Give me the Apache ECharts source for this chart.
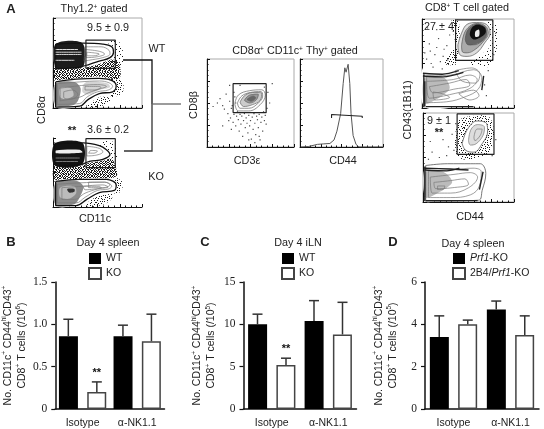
<!DOCTYPE html>
<html>
<head>
<meta charset="utf-8">
<style>html,body{margin:0;padding:0;background:#fff}#c{width:544px;height:429px}</style>
<script src="https://cdn.jsdelivr.net/npm/echarts@6/dist/echarts.min.js"></script>
</head>
<body>
<div id="c"></div>
<script>
// bar panels
var groups = ['Isotype', 'α-NK1.1'];
var spleenWT = [0.86, 0.86], spleenWTErr = [1.06, 0.99];
var spleenKO = [0.2, 0.8], spleenKOErr = [0.32, 1.12];
var ilnWT = [10, 10.4], ilnWTErr = [11.2, 12.8];
var ilnKO = [5.2, 8.8], ilnKOErr = [6, 12.6];
var prfKO = [3.4, 4.7], prfKOErr = [4.4, 5.1];
var dkKO = [4.0, 3.5], dkKOErr = [4.2, 4.4];
var sigSpleen = ['**', ''], sigIln = ['**', ''], sigNone = ['', ''];

// flow panels, all in percent of the panel
var gateWT = [37, 70, 44, 75.5], gateKO = [37, 70, 57, 99];
var gateCD3 = [30, 68, 39, 72];
var gateHi = [36.5, 77, 53.5, 99], gateHiKO = [37.5, 78, 53.5, 99];

var wtRings = [
  [[3,71],[34,72],[56,71],[66,68],[68,62],[64,56],[52,52],[41,48.5],[30,45.5],[15,44],[3,44]],
  [[3,29],[26,32],[52,33],[65,31],[71,25],[67,18],[52,16],[39,9],[30,2],[3,1]]
];
var wtDenseArea = [[2,46],[30,44],[42,46],[55,50],[66,54],[74,50],[76,36],[72,32],[50,35],[25,33],[2,32]];
var wtMidArea = [[66,34],[78,30],[78,17],[66,12],[52,12],[40,4],[34,1],[50,1],[64,8]];
var wtThinArea = [[60,74],[74,74],[80,52],[72,44],[66,54],[70,66]];
var wtDarkArea = [[3,71],[33,72],[34,46],[15,44],[3,44]];
var wtGreyArea = [[3,27],[24,29],[31,22],[28,8],[22,3],[3,3]];
var wtPaleArea = [[8,22],[20,22],[23,14],[14,10],[8,12]];
var wtMidTone = [[36,28],[52,29],[62,27],[64,23],[52,20],[40,15],[33,18]];
var wtInner = [
  [[36,68],[54,68],[63,64],[64,60],[56,56],[40,53],[35,52]],
  [[36,65],[52,63],[58,60],[50,57],[38,56]],
  [[38,62],[48,61],[52,60],[46,58],[38,58]],
  [[5,27],[30,29],[52,30],[63,28],[67,24],[62,20],[50,18],[38,12],[30,5],[5,4]],
  [[8,22],[32,25],[50,26],[60,24],[52,21],[40,17],[30,12],[8,8]],
  [[36,24],[50,24],[54,23],[46,20],[36,20]],
  [[12,18],[22,20],[28,15],[20,10],[12,12]]
];
var wtLight = [[[3,62],[32,62]], [[3,59.5],[32,59.5]], [[3,65],[28,65]], [[3,53],[24,53]]];

var koRings = [
  [[2,92],[34,93],[52,89],[60,83],[64,76],[56,69],[41,66],[30,61],[4,60]],
  [[3,37],[30,40],[60,40],[71,32],[69,24],[52,21],[38,11],[26,2],[3,2]]
];
var koDenseArea = [[2,60],[30,59],[41,64],[56,67],[66,70],[70,60],[72,46],[66,42],[40,42],[2,40]];
var koMidArea = [[70,42],[78,36],[76,22],[60,18],[48,14],[36,2],[50,1],[66,12]];
var koThinArea = [[52,94],[68,94],[72,70],[64,70]];
var koDarkArea = [[2,92],[33,93],[33,62],[2,60]];
var koStrip = [[3,82],[30,83],[33,79],[3,78]];
var koGreyArea = [[3,35],[26,38],[34,30],[30,14],[24,4],[3,3]];
var koPaleArea = [[8,28],[24,30],[26,20],[18,12],[8,14]];
var koCore = [[16,26],[24,26],[24,22],[18,21]];
var koInner = [
  [[38,88],[52,85],[56,80],[48,75],[38,74]],
  [[42,82],[50,81],[46,78],[40,78]],
  [[5,33],[30,35],[58,36],[66,30],[62,26],[50,24],[36,14],[26,6],[5,6]],
  [[10,28],[32,30],[56,32],[62,29],[50,26],[36,20],[24,11],[10,11]],
  [[34,30],[52,30],[54,28],[46,26],[36,25]],
  [[40,36],[58,36],[64,32],[56,28],[40,28]]
];
var koLight = [[[3,71],[30,71]], [[3,66],[28,66]]];

var cd3Rings = [
  [[32,49],[36,59],[49,64],[63,65],[67,59],[61,48],[48,41],[36,41]],
  [[35,50],[40,58],[50,62],[62,63],[64,58],[59,50],[48,44],[38,44]],
  [[38,51],[44,59],[55,62],[63,61],[61,53],[52,48],[42,46]],
  [[43,53],[49,59],[59,60],[57,54],[49,50]],
  [[46,54],[53,58],[56,56],[51,52]]
];
var cd3Dots = [[7,46],[12,50],[15,55],[18,47],[20,43],[22,60],[24,38],[26,52],[27,33],[28,44],[30,28],[31,37],[32,57],[33,24],[34,35],[35,40],[36,31],[37,18],[38,37],[39,26],
  [40,35],[41,12],[42,30],[43,38],[44,22],[45,33],[46,27],[47,16],[48,36],[49,24],[50,30],[51,9],[52,34],[53,20],[54,38],[55,27],[56,14],[57,35],[58,31],[59,22],[60,37],[61,8],[62,28],
  [63,34],[64,18],[65,40],[66,30],[67,36],[69,44],[72,50],[70,62],[75,72],[26,70],[38,70],[66,68],[29,47],[25,30],[18,24],[48,8],[55,5],[60,12],[68,26],[33,50],[31,62],[28,20]];

var histLine = [[1,0],[10,0.5],[21,3],[28,3.5],[36,4],[41,8],[44.5,18],[49,38],[52,72],[54,90],[55.5,85],[58,94],[60,72],[61.5,38],[64,13],[67.5,3],[71,0],[100,0]];
var histGate = [[38,33],[38,37],[38,35],[75,35],[75,33],[75,37]];

var hiMidArea = [[24,50],[38,50],[40,98],[32,98],[36,72],[30,60]];
var hiThinArea = [[72,98],[82,92],[80,60],[72,46],[50,50],[62,58],[74,70]];
var hiOuter = [[39,71],[43,84],[49,94],[59.5,96],[70,94],[74,84],[68,73],[59.5,62],[49,58],[41,60]];
var hiTone1 = [[43,70],[46,84],[52,92],[60,95],[69,92],[72,84],[66,74],[58,66],[49,62],[44,63]];
var hiTone2 = [[47,77],[50,88],[59.5,94],[69,90],[70,82],[65,75],[56,71],[50,71]];
var hiCore = [[52,82],[54,90],[61,94],[69,90],[69,84],[63,79],[56,77]];
var hiHole = [[58,80],[58,86],[62,88],[62,81]];
var hiPop = [[1,45],[27,43],[48,47],[61,47],[69,37],[66,20],[63,9],[56,6],[41,2],[3,1]];
var hiGrey = [[3,34],[24,34],[30,22],[16,10],[3,5]];
var hiRings = [
  [[5,36],[31,37],[56,43],[65,34],[61,21],[48,13],[27,7],[5,6]],
  [[5,30],[34,32],[52,37],[60,32],[52,22],[30,15],[8,11]],
  [[8,24],[30,28],[48,32],[52,26],[34,21],[12,17]],
  [[12,18],[22,16],[30,12],[14,9]],
  [[36,42],[54,45],[63,38],[58,28],[44,30]],
  [[40,16],[56,20],[62,14],[52,9]]
];
var hiDark = [[[1,36],[23,35],[45,40]], [[1,39],[22,38],[40,42]], [[2,1],[2,38]], [[3,2],[3,30]], [[67,36],[65,20]], [[4,1.5],[56,1.5]]];
var hiDots = [[8,72],[14,60],[18,78],[10,50],[20,52],[24,66],[6,90],[16,88],[22,44],[27,70],[30,82],[34,86],[80,84],[78,60],[72,42],[68,26],[70,14],[3,62],[12,46],[5,55],[16,68],[23,58],[28,54],[9,64]];

var loMidArea = [[38,90],[50,96],[72,96],[78,80],[74,58],[60,50],[44,48],[36,56]];
var loOuter = [[43,65.5],[49,82],[59.5,91],[70,88],[71,79],[65,65.5],[56,56],[47,58]];
var loTone = [[50,69],[53,82],[60,87],[67.5,84],[66,75],[58.5,65.5],[52,64]];
var loPop = [[3,41],[27,43],[52,43],[63,43],[69,32],[65,13],[61,2],[16,1],[3,1]];
var loGrey = [[3,34],[24,33],[32,22],[16,10],[3,5]];
var loRings = [
  [[50,69],[53,82],[60,87],[67.5,84],[66,75],[58.5,65.5],[52,64]],
  [[56,73],[59.5,82],[65,82],[63,75],[57,69]],
  [[6,35],[30,36],[55,38],[64,34],[62,18],[52,8],[30,5],[6,5]],
  [[8,28],[34,31],[52,33],[60,28],[50,16],[30,10],[10,10]],
  [[12,22],[30,24],[46,26],[50,20],[32,16],[14,15]],
  [[16,18],[24,18],[22,14],[16,14]]
];
var loDark = [[[2,38],[30,37],[50,36]], [[2,36],[26,35],[40,38]], [[2,1],[2,40]], [[3,1.5],[60,1.5]], [[66,34],[62,14]]];
var loDots = [[14,82],[22,70],[10,56],[28,62],[18,50],[32,76],[6,48],[26,52],[80,70],[76,52],[34,58],[36,88],[8,68]];

// dot tiles used as fill for the stippled parts of the flow plots
var tileDense = [
  '#.##..#.#..##.#.', '.#..##.#.##..#.#', '##.#..#..#.##..#', '..#.##.##.#..##.',
  '#..#..#..#.##.#.', '.##.#..##.#..#.#', '#..##.#..#..##..', '.#.#..#.##.#..##',
  '##..#.#..#.##.#.', '..##.#.##.#..#.#', '#.#..#..#..##.#.', '.#.##.##.#.#..##',
  '#..#..#.#.##.#..', '.##.#.#..#..#.##', '#.#.##.##.#..#.#', '.#..#..#.#.##.#.'
];
var tileMid = [
  '#...#..#......#.', '..#.....#..#....', '.....#......#..#', '.#.....#.#......',
  '...#.#.......#..', '#........#.#....', '..#..#.......#.#', '......#.#.......',
  '.#.........#..#.', '....#.#.#.......', '#..........#...#', '..#..#....#.....',
  '.......#......#.', '.#.#......#.....', '.....#.#.....#..', '#.........#....#'
];
var tileThin = [
  '#.......#.......', '....#...........', '..........#.....', '.......#.......#',
  '...#............', '............#...', '#.......#.......', '.....#..........',
  '..........#.....', '..#............#', '.......#........', '............#...',
  '....#...........', '#.........#.....', '.......#........', '..............#.'
];

function makeTile(rows) {
  var cv = document.createElement('canvas');
  cv.width = 16; cv.height = 16;
  var g = cv.getContext('2d');
  g.fillStyle = '#1a1a1a';
  rows.forEach(function (r, y) {
    for (var x = 0; x < 16; x++) if (r[x] === '#') g.fillRect(x, y, 1, 1);
  });
  return { image: cv, repeat: 'repeat' };
}
var dense = makeTile(tileDense), mid = makeTile(tileMid), thin = makeTile(tileThin);

var chart = echarts.init(document.getElementById('c'));

var ff = '"Liberation Sans", Arial, sans-serif';
var supStyle = { fontFamily: ff, fontSize: 6.5, verticalAlign: 'top', color: '#222', fill: '#222' };
var grids = [], xAxes = [], yAxes = [], series = [];

// flow panels: no labels, small inward ticks, grey frame on some of them
function flowPanel(x, y, w, h, frame) {
  var ax = {
    type: 'value', min: 0, max: 100, interval: 25,
    axisLine: { show: true, lineStyle: { color: '#111', width: 1 } },
    axisTick: { show: true, inside: true, length: 3, lineStyle: { color: '#111', width: 1 } },
    minorTick: { show: true, splitNumber: 4, length: 1.5, lineStyle: { color: '#111' } },
    axisLabel: { show: false }, splitLine: { show: false }
  };
  grids.push({ left: x, top: y, width: w, height: h, show: frame, borderColor: '#aaa', borderWidth: 1, backgroundColor: 'transparent' });
  var i = grids.length - 1;
  xAxes.push(Object.assign({ gridIndex: i }, ax));
  yAxes.push(Object.assign({ gridIndex: i }, ax));
  return i;
}

function path(panel, pts, color, width, opts) {
  series.push(Object.assign({
    type: 'line', xAxisIndex: panel, yAxisIndex: panel, data: pts, symbol: 'none', silent: true,
    lineStyle: { color: color, width: width }, clip: true, z: 3
  }, opts || {}));
}
function rings(panel, list, color, width) {
  list.forEach(function (r) {
    path(panel, r.concat([r[0]]), color, width, { smooth: 0.4 });
  });
}
function strokes(panel, list, color, width) {
  list.forEach(function (s) { path(panel, s, color, width, { smooth: 0.3 }); });
}
// filled region of a flow plot, fill is a colour or a dot tile
function area(panel, pts, fill) {
  series.push({
    type: 'custom', xAxisIndex: panel, yAxisIndex: panel, silent: true, z: 2, data: pts,
    encode: { x: 0, y: 1 },
    renderItem: function (params, api) {
      if (params.dataIndex !== 0) return null;
      return {
        type: 'polygon',
        shape: { points: pts.map(function (p) { return api.coord(p); }), smooth: 0.3 },
        style: { fill: fill, stroke: null }
      };
    }
  });
}
function dots(panel, pts) {
  series.push({
    type: 'scatter', xAxisIndex: panel, yAxisIndex: panel, data: pts, symbol: 'rect', symbolSize: 1.2, silent: true, z: 2,
    itemStyle: { color: '#222' }
  });
}
function gate(panel, g) {
  path(panel, [[g[0],g[2]],[g[1],g[2]],[g[1],g[3]],[g[0],g[3]],[g[0],g[2]]], '#222', 1.2, { z: 5 });
}

var pWT = flowPanel(53, 18, 89, 90, true);
area(pWT, wtThinArea, thin);
area(pWT, wtMidArea, mid);
area(pWT, wtDenseArea, dense);
area(pWT, wtRings[0], '#fff');
area(pWT, wtRings[1], '#fff');
area(pWT, wtDarkArea, '#1c1c1c');
area(pWT, wtGreyArea, '#8c8c8c');
area(pWT, wtPaleArea, '#c4c4c4');
area(pWT, wtMidTone, '#d4d4d4');
rings(pWT, wtRings, '#111', 1.3);
rings(pWT, wtInner, '#777', 0.7);
strokes(pWT, wtLight, '#ddd', 1);
gate(pWT, gateWT);

var pKO = flowPanel(53, 138, 89, 69, false);
area(pKO, koThinArea, thin);
area(pKO, koMidArea, mid);
area(pKO, koDenseArea, dense);
area(pKO, koRings[0], '#fff');
area(pKO, koRings[1], '#fff');
area(pKO, koDarkArea, '#141414');
area(pKO, koStrip, '#eee');
area(pKO, koGreyArea, '#8c8c8c');
area(pKO, koPaleArea, '#bbb');
area(pKO, koCore, '#333');
rings(pKO, koRings, '#111', 1.3);
rings(pKO, koInner, '#777', 0.7);
strokes(pKO, koLight, '#999', 0.8);
gate(pKO, gateKO);

var pCD3 = flowPanel(207, 59, 87, 88, true);
dots(pCD3, cd3Dots);
area(pCD3, cd3Rings[2], '#ccc');
area(pCD3, cd3Rings[3], '#999');
area(pCD3, cd3Rings[4], '#666');
rings(pCD3, cd3Rings, '#666', 0.7);
gate(pCD3, gateCD3);

var pHist = flowPanel(300, 59, 83, 88, true);
path(pHist, histLine, '#555', 1);
path(pHist, histGate, '#222', 1.1);

var pHi = flowPanel(422, 19, 92, 89, true);
area(pHi, hiMidArea, mid);
area(pHi, hiThinArea, thin);
dots(pHi, hiDots);
area(pHi, hiOuter, '#ddd');
area(pHi, hiTone1, '#aaa');
area(pHi, hiTone2, '#666');
area(pHi, hiCore, '#111');
area(pHi, hiHole, '#eee');
area(pHi, hiPop, '#fff');
area(pHi, hiGrey, '#bbb');
rings(pHi, [hiOuter, hiTone1, hiTone2], '#555', 0.7);
rings(pHi, hiRings, '#777', 0.7);
strokes(pHi, hiDark, '#222', 1.4);
gate(pHi, gateHi);

var pLo = flowPanel(423, 113, 91, 89, true);
area(pLo, loMidArea, mid);
dots(pLo, loDots);
area(pLo, loOuter, '#fff');
area(pLo, loTone, '#ddd');
area(pLo, loPop, '#fff');
area(pLo, loGrey, '#bbb');
rings(pLo, [loOuter, loPop], '#555', 0.8);
rings(pLo, loRings, '#777', 0.7);
strokes(pLo, loDark, '#222', 1.4);
gate(pLo, gateHiKO);

// bar panels
function barPanel(left, width, top, height, yMax, yInt, yFmt, yName, gap, names, a, aErr, b, bErr, sig) {
  grids.push({ left: left, top: top, width: width, height: height });
  var i = grids.length - 1;
  xAxes.push({
    gridIndex: i, type: 'category', data: groups,
    axisLine: { lineStyle: { color: '#111', width: 1.5 } }, axisTick: { show: false },
    axisLabel: { color: '#222', fontFamily: ff, fontSize: 10.5, margin: 9 }
  });
  yAxes.push({
    gridIndex: i, type: 'value', min: 0, max: yMax, interval: yInt,
    axisLine: { show: true, lineStyle: { color: '#111', width: 1.5 } },
    axisTick: { show: true, length: 4, lineStyle: { color: '#111', width: 1.2 } },
    axisLabel: { color: '#222', fontFamily: '"Liberation Serif", serif', fontSize: 11.5, margin: 8, formatter: yFmt },
    splitLine: { show: false },
    name: yName, nameLocation: 'middle', nameRotate: 90, nameGap: gap,
    nameTextStyle: { color: '#222', fontFamily: ff, fontSize: 10.5, lineHeight: 14, rich: { s: supStyle } }
  });
  function bars(name, vals, item) {
    series.push({ name: name, type: 'bar', xAxisIndex: i, yAxisIndex: i, data: vals, barWidth: 19, barGap: '49%', itemStyle: item });
  }
  bars(names[0], a, { color: '#000' });
  bars(names[1], b, { color: '#fff', borderColor: '#444', borderWidth: 1.5 });
  function errs(vals, upper, off, marks) {
    series.push({
      type: 'custom', xAxisIndex: i, yAxisIndex: i, silent: true, z: 4,
      data: vals.map(function (v, k) { return [k, v, upper[k]]; }),
      encode: { x: 0, y: [1, 2] },
      renderItem: function (params, api) {
        var base = api.coord([api.value(0), api.value(1)]);
        var tip = api.coord([api.value(0), api.value(2)]);
        var x = base[0] + off;
        var st = { stroke: '#333', lineWidth: 1.5 };
        var kids = [
          { type: 'line', shape: { x1: x, y1: base[1], x2: x, y2: tip[1] }, style: st },
          { type: 'line', shape: { x1: x - 5, y1: tip[1], x2: x + 5, y2: tip[1] }, style: st }
        ];
        var m = marks[api.value(0)];
        if (m) {
          kids.push({ type: 'text', style: { text: m, x: x, y: tip[1] - 9, align: 'center', verticalAlign: 'middle', font: 'bold 11px ' + ff, fill: '#111' } });
        }
        return { type: 'group', children: kids };
      }
    });
  }
  errs(a, aErr, -14.25, sigNone);
  errs(b, bErr, 14.25, sig);
  return i;
}

function oneDecimal(v) { return v === 0 ? '0' : v.toFixed(1); }
function plain(v) { return String(v); }

var nameB = 'No. CD11c{s|+} CD44{s|hi}CD43{s|+}\nCD8{s|+} T cells (/10{s|6})';
var nameC = 'No. CD11c{s|+} CD44{s|hi}CD43{s|+}\nCD8{s|+} T cells (/10{s|5})';
barPanel(51.5, 113, 282, 127, 1.5, 0.5, oneDecimal, nameB, 24, ['WT', 'KO'], spleenWT, spleenWTErr, spleenKO, spleenKOErr, sigSpleen);
barPanel(243.5, 113, 282, 128, 15, 5, plain, nameC, 25, ['WT ', 'KO '], ilnWT, ilnWTErr, ilnKO, ilnKOErr, sigIln);
barPanel(425, 114, 282, 128, 6, 2, plain, nameC, 25, ['Prf1-KO', '2B4/Prf1-KO'], prfKO, prfKOErr, dkKO, dkKOErr, sigNone);

function legendAt(x, names, fmt) {
  return {
    left: x, top: 253, padding: 0, orient: 'vertical', icon: 'rect', itemWidth: 12, itemHeight: 11, itemGap: 3, data: names,
    selectedMode: false, formatter: fmt,
    textStyle: { color: '#222', fontFamily: ff, fontSize: 10.5,
      rich: { i: { fontStyle: 'italic', fontFamily: ff, fontSize: 10.5, color: '#222' }, n: { fontFamily: ff, fontSize: 10.5, color: '#222' } } }
  };
}

function txt(s, x, y, o) {
  o = o || {};
  return {
    type: 'text', x: x, y: y, rotation: o.rot || 0, silent: true, z: 20,
    style: { text: s, align: o.align || 'center', verticalAlign: 'middle', fill: '#222', rich: { s: supStyle },
      font: (o.weight || 'normal') + ' ' + (o.size || 10.8) + 'px ' + ff }
  };
}
function seg(pts, color) {
  return { type: 'polyline', silent: true, z: 20, shape: { points: pts }, style: { stroke: color, lineWidth: 1.3, fill: null } };
}

var graphic = [
  txt('A', 11, 9, { size: 13, weight: 'bold' }),
  txt('B', 11, 242, { size: 13, weight: 'bold' }),
  txt('C', 205, 242, { size: 13, weight: 'bold' }),
  txt('D', 393, 242, { size: 13, weight: 'bold' }),
  txt('Thy1.2{s|+} gated', 94, 9),
  txt('9.5 ± 0.9', 108, 28),
  txt('WT', 157, 49),
  txt('KO', 156, 177),
  txt('**', 72, 131, { weight: 'bold', size: 11 }),
  txt('3.6 ± 0.2', 108, 130),
  txt('CD8α', 42, 110, { rot: Math.PI / 2 }),
  txt('CD11c', 95, 219),
  txt('CD8α{s|+} CD11c{s|+} Thy{s|+} gated', 295, 51),
  txt('CD8β', 194, 105, { rot: Math.PI / 2 }),
  txt('CD3ε', 247, 161),
  txt('CD44', 343, 161),
  txt('CD8{s|+} T cell gated', 467, 8),
  txt('27 ± 4', 439, 27),
  txt('9 ± 1', 439, 121),
  txt('**', 439, 133, { weight: 'bold', size: 11 }),
  txt('CD43(1B11)', 408, 110, { rot: Math.PI / 2 }),
  txt('CD44', 470, 217),
  txt('Day 4 spleen', 108, 243),
  txt('Day 4 iLN', 298, 243),
  txt('Day 4 spleen', 473, 244),
  // bracket lines between panels
  seg([[123, 60], [152, 60], [152, 104]], '#111'),
  seg([[152, 104], [152, 151], [124, 151]], '#333'),
  seg([[152, 104], [181, 104]], '#666')
];

var option = {
  animation: false,
  backgroundColor: '#fff',
  textStyle: { fontFamily: ff },
  grid: grids,
  xAxis: xAxes,
  yAxis: yAxes,
  legend: [
    legendAt(88, ['WT', 'KO']),
    legendAt(281, ['WT ', 'KO ']),
    legendAt(452, ['Prf1-KO', '2B4/Prf1-KO'], function (n) {
      return n === 'Prf1-KO' ? '{i|Prf1}{n|-KO}' : '{n|2B4/}{i|Prf1}{n|-KO}';
    })
  ],
  series: series,
  graphic: graphic
};

chart.setOption(option);
</script>
</body>
</html>
